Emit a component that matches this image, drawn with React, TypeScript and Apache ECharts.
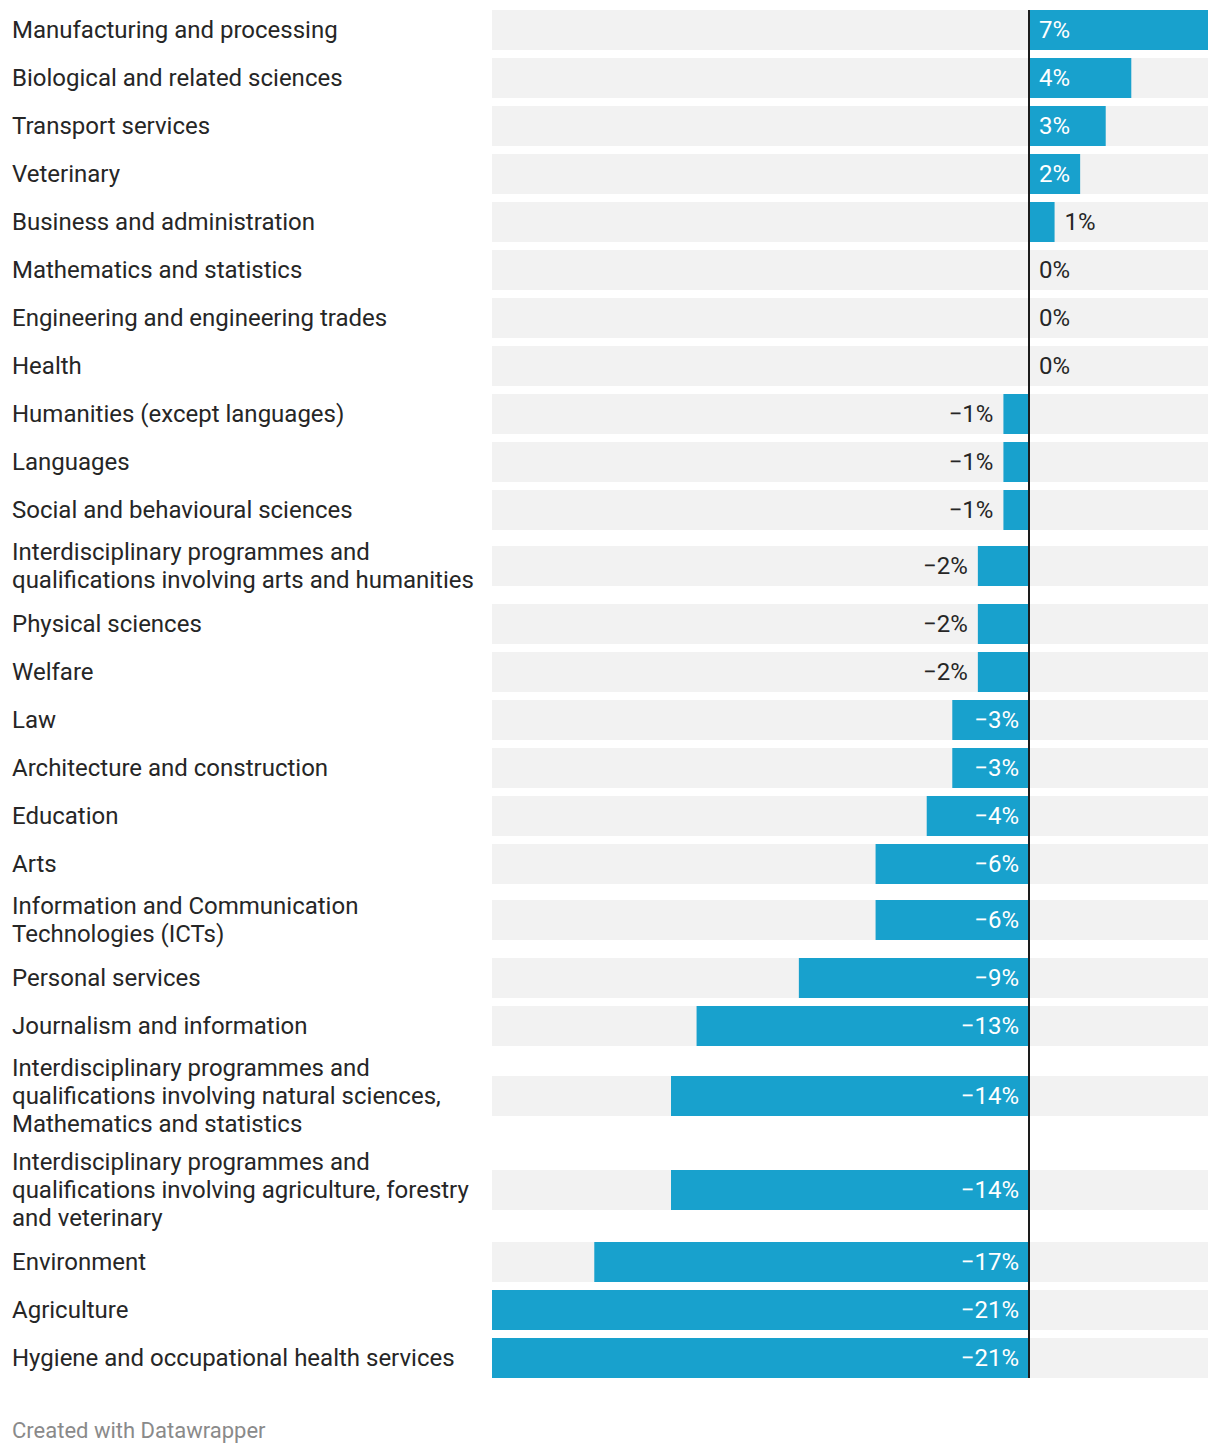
import React, { useEffect, useRef } from "react";
import * as echarts from "echarts";

const categories: string[] = [
  "Manufacturing and processing",
  "Biological and related sciences",
  "Transport services",
  "Veterinary",
  "Business and administration",
  "Mathematics and statistics",
  "Engineering and engineering trades",
  "Health",
  "Humanities (except languages)",
  "Languages",
  "Social and behavioural sciences",
  "Interdisciplinary programmes and\nqualifications involving arts and humanities",
  "Physical sciences",
  "Welfare",
  "Law",
  "Architecture and construction",
  "Education",
  "Arts",
  "Information and Communication\nTechnologies (ICTs)",
  "Personal services",
  "Journalism and information",
  "Interdisciplinary programmes and\nqualifications involving natural sciences,\nMathematics and statistics",
  "Interdisciplinary programmes and\nqualifications involving agriculture, forestry\nand veterinary",
  "Environment",
  "Agriculture",
  "Hygiene and occupational health services",
];

const values: number[] = [
  7, 4, 3, 2, 1, 0, 0, 0, -1, -1, -1, -2, -2, -2, -3, -3, -4, -6, -6, -9, -13,
  -14, -14, -17, -21, -21,
];

const X_MIN = -21;
const X_MAX = 7;
const footerText = "Created with Datawrapper";

const FONT_FAMILY = "Roboto";
const LABEL_SIZE = 24;
const LINE_H = 28;
const BAR_H = 40;
const ROW_GAP = 8;
const BAR_COLOR = "#18a1cd";
const BG_COLOR = "#f2f2f2";
const TEXT_COLOR = "#262626";

function fmt(v: number): string {
  return (v < 0 ? "\u2212" + Math.abs(v) : String(v)) + "%";
}

function layoutRows() {
  const rows: { barTop: number }[] = [];
  let top = 0;
  categories.forEach((c) => {
    const n = c.split("\n").length;
    const h = Math.max(BAR_H, n * LINE_H + 2);
    const off = n > 1 ? (h - BAR_H) / 2 - 1 : 0;
    rows.push({ barTop: top + off });
    top += h + ROW_GAP;
  });
  return { rows, total: top - ROW_GAP };
}

let measureCtx: CanvasRenderingContext2D | null = null;
function textWidth(t: string, size: number): number {
  if (!measureCtx) {
    const c = document.createElement("canvas");
    measureCtx = c.getContext("2d");
  }
  if (!measureCtx) return t.length * size * 0.55;
  measureCtx.font = `${size}px ${FONT_FAMILY}`;
  return measureCtx.measureText(t).width;
}

export default function App() {
  const ref = useRef<HTMLDivElement>(null);

  useEffect(() => {
    document.body.style.margin = "0";
    if (!ref.current) return;
    const chart = echarts.init(ref.current, undefined, { renderer: "svg" });
    const { rows, total } = layoutRows();
    const data = values.map((v, i) => [v, rows[i].barTop, i]);

    const renderBar = (params: any, api: any) => {
      const i = api.value(2) as number;
      const v = api.value(0) as number;
      const barTop = api.value(1) as number;
      const z0 = api.coord([0, barTop]);
      const z1 = api.coord([v, barTop + BAR_H]);
      const left = api.coord([X_MIN, barTop])[0];
      const right = api.coord([X_MAX, barTop])[0];
      const y = z0[1];
      const h = z1[1] - z0[1];
      const cy = y + h / 2;
      const bx = Math.min(z0[0], z1[0]);
      const bw = Math.abs(z1[0] - z0[0]);
      const label = fmt(v);
      const tw = textWidth(label, LABEL_SIZE);
      const inside = bw >= tw + 20;
      let lx: number;
      let align: string;
      let fill: string;
      if (v >= 0) {
        align = "left";
        if (inside) {
          lx = z0[0] + 10;
          fill = "#ffffff";
        } else {
          lx = z1[0] + 10;
          fill = TEXT_COLOR;
        }
      } else {
        align = "right";
        if (inside) {
          lx = z0[0] - 10;
          fill = "#ffffff";
        } else {
          lx = z1[0] - 10;
          fill = TEXT_COLOR;
        }
      }
      return {
        type: "group",
        children: [
          {
            type: "rect",
            shape: { x: left, y, width: right - left, height: h },
            style: { fill: BG_COLOR },
          },
          {
            type: "rect",
            shape: { x: bx, y, width: bw, height: h },
            style: { fill: BAR_COLOR },
          },
          {
            type: "text",
            x: lx,
            y: cy,
            style: {
              text: label,
              fill,
              fontSize: LABEL_SIZE,
              fontFamily: FONT_FAMILY,
              align,
              verticalAlign: "middle",
            },
          },
          {
            type: "text",
            x: 12,
            y: cy,
            style: {
              text: categories[i],
              fill: TEXT_COLOR,
              fontSize: LABEL_SIZE,
              fontFamily: FONT_FAMILY,
              lineHeight: LINE_H,
              align: "left",
              verticalAlign: "middle",
            },
          },
        ],
      };
    };

    const renderZero = (params: any, api: any) => {
      const a = api.coord([0, 0]);
      const b = api.coord([0, total]);
      return {
        type: "line",
        shape: { x1: a[0], y1: a[1], x2: b[0], y2: b[1] },
        style: { stroke: "#1d1d1d", lineWidth: 2 },
      };
    };

    chart.setOption({
      animation: false,
      grid: { left: 492, right: 12, top: 10, height: total },
      xAxis: { type: "value", min: X_MIN, max: X_MAX, show: false },
      yAxis: { type: "value", min: 0, max: total, inverse: true, show: false },
      series: [
        {
          type: "custom",
          renderItem: renderBar,
          data,
          encode: { x: 0, y: 1 },
          clip: false,
          z: 2,
        },
        {
          type: "custom",
          renderItem: renderZero,
          data: [[0, 0]],
          clip: false,
          z: 5,
        },
      ],
      graphic: [
        {
          type: "text",
          left: 12,
          top: 1419,
          style: {
            text: footerText,
            fill: "#8a8a8a",
            fontSize: 22,
            fontFamily: FONT_FAMILY,
          },
        },
      ],
    });
    return () => chart.dispose();
  }, []);

  return <div ref={ref} style={{ width: 1220, height: 1454 }} />;
}
